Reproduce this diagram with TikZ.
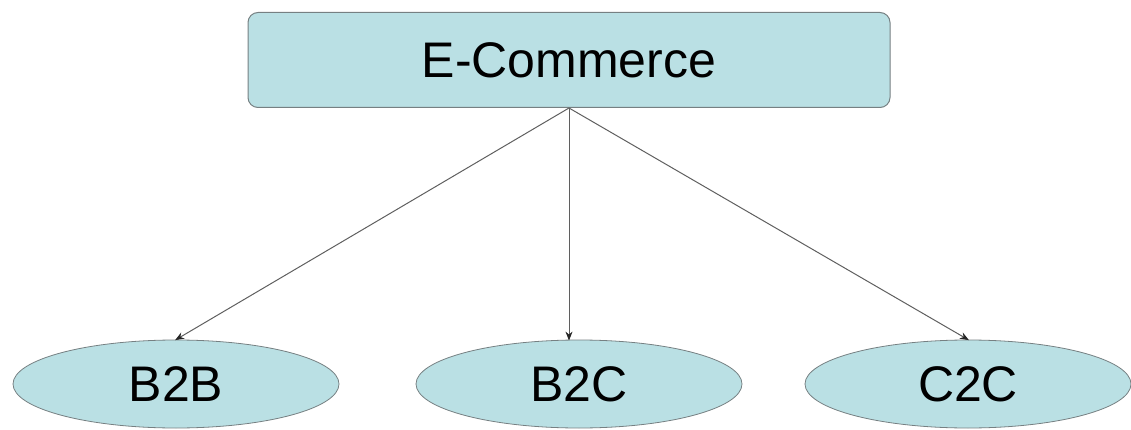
\documentclass[tikz,border=0pt]{standalone}
\usepackage{fontspec}
\setmainfont{Liberation Sans}
\usepackage{xcolor}
\usetikzlibrary{shapes,arrows,arrows.meta,positioning}
\definecolor{boxfill}{RGB}{186,224,228}
\definecolor{boxline}{RGB}{118,128,130}
\definecolor{linkline}{RGB}{95,95,95}

\begin{document}
\begin{tikzpicture}[x=1pt, y=1pt, node distance=324pt, auto]
% Define styles
\tikzstyle{category} = [rectangle, rounded corners=10pt, minimum width=642pt, minimum height=95pt, text centered, draw=boxline, line width=1pt, fill=boxfill, font=\fontsize{50}{54}\selectfont]
\tikzstyle{model} = [ellipse, minimum width=326pt, minimum height=88pt, inner sep=0pt, text centered, draw=boxline, line width=0.8pt, fill=boxfill, font=\fontsize{50}{54}\selectfont]
\tikzstyle{arrow} = [draw=linkline, line width=1pt, -{Stealth[length=9pt, width=7pt, color=black!85]}, shorten >=-1pt]

\useasboundingbox (0,0) rectangle (1131,-430);

% Define nodes
\node (ecom) [category] at (569,-60) {E-Commerce};
\node (b2c) [model, below of=ecom, xshift=10pt] {B2C};
\node (b2b) [model, left of=b2c, node distance=403pt] {B2B};
\node (c2c) [model, right of=b2c, node distance=389pt] {C2C};

% Draw arrows
\draw [arrow] (ecom.south) -- (b2b.north);
\draw [arrow] (ecom.south) -- (ecom.south |- b2c.north);
\draw [arrow] (ecom.south) -- (c2c.north);
\end{tikzpicture}
\end{document}
